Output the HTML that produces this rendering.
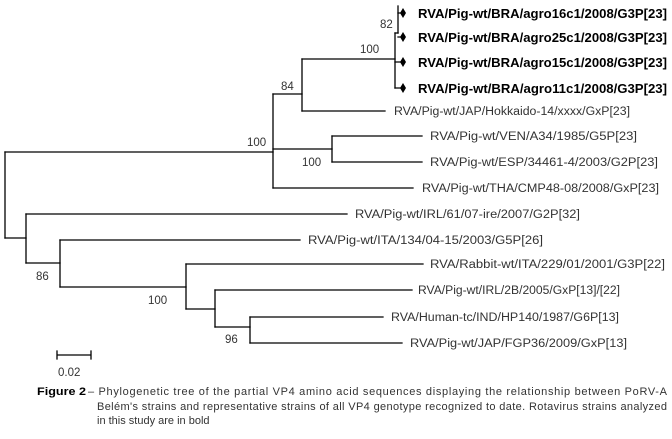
<!DOCTYPE html>
<html><head><meta charset="utf-8"><style>
html,body{margin:0;padding:0;background:#fff;}
svg{display:block;}
text{font-family:"Liberation Sans",sans-serif;fill:#333;}
</style></head><body>
<svg width="672" height="439" viewBox="0 0 672 439" xmlns="http://www.w3.org/2000/svg">
<g stroke="#000" stroke-width="1.3" fill="none" stroke-linecap="square">
<path d="M5 152V238"/>
<path d="M5 152H273"/>
<path d="M5 238H26"/>
<path d="M273 94V188"/>
<path d="M273 94H302"/>
<path d="M302 59V111"/>
<path d="M302 59H395"/>
<path d="M395 33V88"/>
<path d="M398 6V33"/>
<path d="M395 33H398"/>
<path d="M398 13H403M398 37H403M395 62H403M395 88H403"/>
<path d="M302 111H385"/>
<path d="M273 149H332"/>
<path d="M332 136V162"/>
<path d="M332 136H422"/>
<path d="M332 162H422"/>
<path d="M273 188H413"/>
<path d="M26 214V263"/>
<path d="M26 214H347"/>
<path d="M26 263H60"/>
<path d="M60 240V287"/>
<path d="M60 240H300"/>
<path d="M60 287H186"/>
<path d="M186 264V309"/>
<path d="M186 264H423"/>
<path d="M186 309H215"/>
<path d="M215 290V327"/>
<path d="M215 290H412"/>
<path d="M215 327H250"/>
<path d="M250 317V343"/>
<path d="M250 317H383"/>
<path d="M250 343H402"/>
<path d="M57 355H91M57 351V359M91 351V359"/>
</g>
<g fill="#000">
<path d="M403 8L406 13L403 18L400 13Z"/>
<path d="M403 32L406 37L403 42L400 37Z"/>
<path d="M403 57L406 62L403 67L400 62Z"/>
<path d="M403 83L406 88L403 93L400 88Z"/>
</g>
<g font-size="12.5" font-weight="bold">
<text x="418" y="18" textLength="249" lengthAdjust="spacingAndGlyphs" style="fill:#000">RVA/Pig-wt/BRA/agro16c1/2008/G3P[23]</text>
<text x="418" y="42" textLength="249" lengthAdjust="spacingAndGlyphs" style="fill:#000">RVA/Pig-wt/BRA/agro25c1/2008/G3P[23]</text>
<text x="418" y="67" textLength="249" lengthAdjust="spacingAndGlyphs" style="fill:#000">RVA/Pig-wt/BRA/agro15c1/2008/G3P[23]</text>
<text x="418" y="93" textLength="249" lengthAdjust="spacingAndGlyphs" style="fill:#000">RVA/Pig-wt/BRA/agro11c1/2008/G3P[23]</text>
</g>
<g font-size="11.5">
<text x="394" y="115" textLength="236" lengthAdjust="spacingAndGlyphs">RVA/Pig-wt/JAP/Hokkaido-14/xxxx/GxP[23]</text>
<text x="430" y="140" textLength="207" lengthAdjust="spacingAndGlyphs">RVA/Pig-wt/VEN/A34/1985/G5P[23]</text>
<text x="430" y="166" textLength="228" lengthAdjust="spacingAndGlyphs">RVA/Pig-wt/ESP/34461-4/2003/G2P[23]</text>
<text x="422" y="192" textLength="237" lengthAdjust="spacingAndGlyphs">RVA/Pig-wt/THA/CMP48-08/2008/GxP[23]</text>
<text x="355" y="218" textLength="225" lengthAdjust="spacingAndGlyphs">RVA/Pig-wt/IRL/61/07-ire/2007/G2P[32]</text>
<text x="308" y="244" textLength="235" lengthAdjust="spacingAndGlyphs">RVA/Pig-wt/ITA/134/04-15/2003/G5P[26]</text>
<text x="430" y="268" textLength="235" lengthAdjust="spacingAndGlyphs">RVA/Rabbit-wt/ITA/229/01/2001/G3P[22]</text>
<text x="418" y="294" textLength="202" lengthAdjust="spacingAndGlyphs">RVA/Pig-wt/IRL/2B/2005/GxP[13]/[22]</text>
<text x="391" y="321" textLength="228" lengthAdjust="spacingAndGlyphs">RVA/Human-tc/IND/HP140/1987/G6P[13]</text>
<text x="410" y="347" textLength="217" lengthAdjust="spacingAndGlyphs">RVA/Pig-wt/JAP/FGP36/2009/GxP[13]</text>
</g>
<g font-size="11.5">
<text x="380" y="28">82</text>
<text x="360" y="53">100</text>
<text x="281" y="90">84</text>
<text x="247" y="146">100</text>
<text x="302" y="166">100</text>
<text x="36" y="280">86</text>
<text x="148" y="304">100</text>
<text x="225" y="343">96</text>
<text x="58" y="376">0.02</text>
</g>
<g font-size="11">
<text x="37" y="395" font-weight="bold" style="fill:#000" textLength="49" lengthAdjust="spacingAndGlyphs">Figure 2</text>
<text x="88" y="395" textLength="579" lengthAdjust="spacing">– Phylogenetic tree of the partial VP4 amino acid sequences displaying the relationship between PoRV-A</text>
<text x="97" y="410" textLength="570" lengthAdjust="spacing">Belém's strains and representative strains of all VP4 genotype recognized to date. Rotavirus strains analyzed</text>
<text x="97" y="424">in this study are in bold</text>
</g>
</svg>
</body></html>
